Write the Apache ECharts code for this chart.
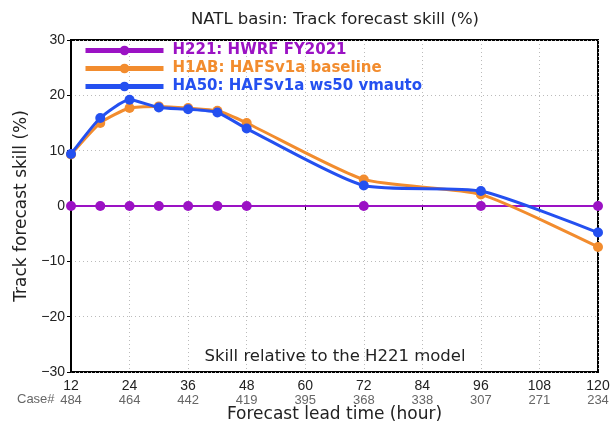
<!DOCTYPE html>
<html><head><meta charset="utf-8">
<script src="https://cdn.jsdelivr.net/npm/echarts@6/dist/echarts.min.js"></script>
<style>html,body{margin:0;padding:0;background:#fff}#c{width:610px;height:422px}</style>
</head><body><div id="c"></div>
<script>
const hours = [12, 18, 24, 30, 36, 42, 48, 72, 96, 120];
const h221 = [0, 0, 0, 0, 0, 0, 0, 0, 0, 0];
const h1ab = [9.3, 15.0, 17.7, 18.0, 17.7, 17.2, 15.0, 4.8, 2.1, -7.4];
const ha50 = [9.4, 15.9, 19.2, 17.8, 17.5, 16.9, 14.0, 3.7, 2.7, -4.8];
const tickHours = [12, 24, 36, 48, 60, 72, 84, 96, 108, 120];
const caseCounts = [484, 464, 442, 419, 395, 368, 338, 307, 271, 234];
const names = ['H221: HWRF FY2021', 'H1AB: HAFSv1a baseline', 'HA50: HAFSv1a ws50 vmauto'];
const colors = ['#9b12c4', '#f28c2e', '#2450f0'];

const font = 'Liberation Sans, Arial, sans-serif';
const wide = 'DejaVu Sans, Verdana, sans-serif';
const zip = a => hours.map((h, i) => [h, a[i]]);
const chart = echarts.init(document.getElementById('c'));
const mk = (name, data, color, w, z) => ({
  name, type: 'line', data: zip(data), smooth: 0.2, symbol: 'circle', symbolSize: 10,
  lineStyle: { color, width: w }, itemStyle: { color }, z
});
chart.setOption({
  animation: false,
  backgroundColor: '#fff',
  title: {
    text: 'NATL basin: Track forecast skill (%)', left: 330, top: 6, textAlign: 'center',
    textStyle: { fontFamily: wide, fontSize: 16.5, fontWeight: 'normal', color: '#222' }
  },
  grid: { left: 71, right: 12, top: 40, bottom: 50, show: true, borderColor: '#000', borderWidth: 2,
    containLabel: false, outerBoundsMode: 'none' },
  legend: {
    left: 83, top: 43, padding: 0, orient: 'vertical', itemWidth: 78, itemHeight: 12, itemGap: 3,
    data: names.map((n, i) => ({ name: n, textStyle: { color: colors[i] } })),
    textStyle: { fontFamily: wide, fontSize: 15, fontWeight: 'bold', padding: [0, 0, 0, 4] },
    lineStyle: { width: 5 }
  },
  xAxis: [{
    type: 'value', min: 12, max: 120, interval: 12,
    axisLine: { show: true, lineStyle: { color: '#000', width: 2 } },
    axisTick: { show: true, length: 4, lineStyle: { color: '#000' } },
    axisLabel: { fontFamily: font, fontSize: 14, color: '#222', margin: 7 },
    splitLine: { show: true, lineStyle: { color: '#bbb', type: [1, 3] } },
    name: 'Forecast lead time (hour)', nameLocation: 'middle', nameGap: 34,
    nameTextStyle: { fontFamily: wide, fontSize: 17, color: '#222' }
  }, {
    type: 'value', min: 12, max: 120, interval: 12, position: 'bottom', offset: 17,
    axisLine: { show: false }, axisTick: { show: false }, splitLine: { show: false },
    axisLabel: {
      fontFamily: font, fontSize: 13, color: '#666', margin: 5,
      formatter: v => { const i = tickHours.indexOf(v); return i >= 0 ? String(caseCounts[i]) : ''; }
    }
  }],
  yAxis: {
    type: 'value', min: -30, max: 30, interval: 10,
    axisLine: { show: true, lineStyle: { color: '#000', width: 2 } },
    axisTick: { show: true, length: 4, lineStyle: { color: '#000' } },
    axisLabel: { fontFamily: font, fontSize: 14, color: '#222', margin: 6,
      formatter: v => v < 0 ? '\u2212' + Math.abs(v) : String(v) },
    splitLine: { show: true, lineStyle: { color: '#bbb', type: [1, 3] } },
    name: 'Track forecast skill (%)', nameLocation: 'middle', nameGap: 39,
    nameTextStyle: { fontFamily: wide, fontSize: 17, color: '#222' }
  },
  graphic: [
    { type: 'text', x: 17, y: 393, style: { text: 'Case#', fontFamily: font, fontSize: 13, fill: '#666' } },
    { type: 'text', x: 335, y: 348, style: { text: 'Skill relative to the H221 model', fontFamily: wide, fontSize: 16.5, fill: '#222', align: 'center', textAlign: 'center' } }
  ],
  series: [
    mk(names[0], h221, colors[0], 2, 3),
    mk(names[1], h1ab, colors[1], 3, 4),
    mk(names[2], ha50, colors[2], 3, 5)
  ]
});
</script></body></html>
